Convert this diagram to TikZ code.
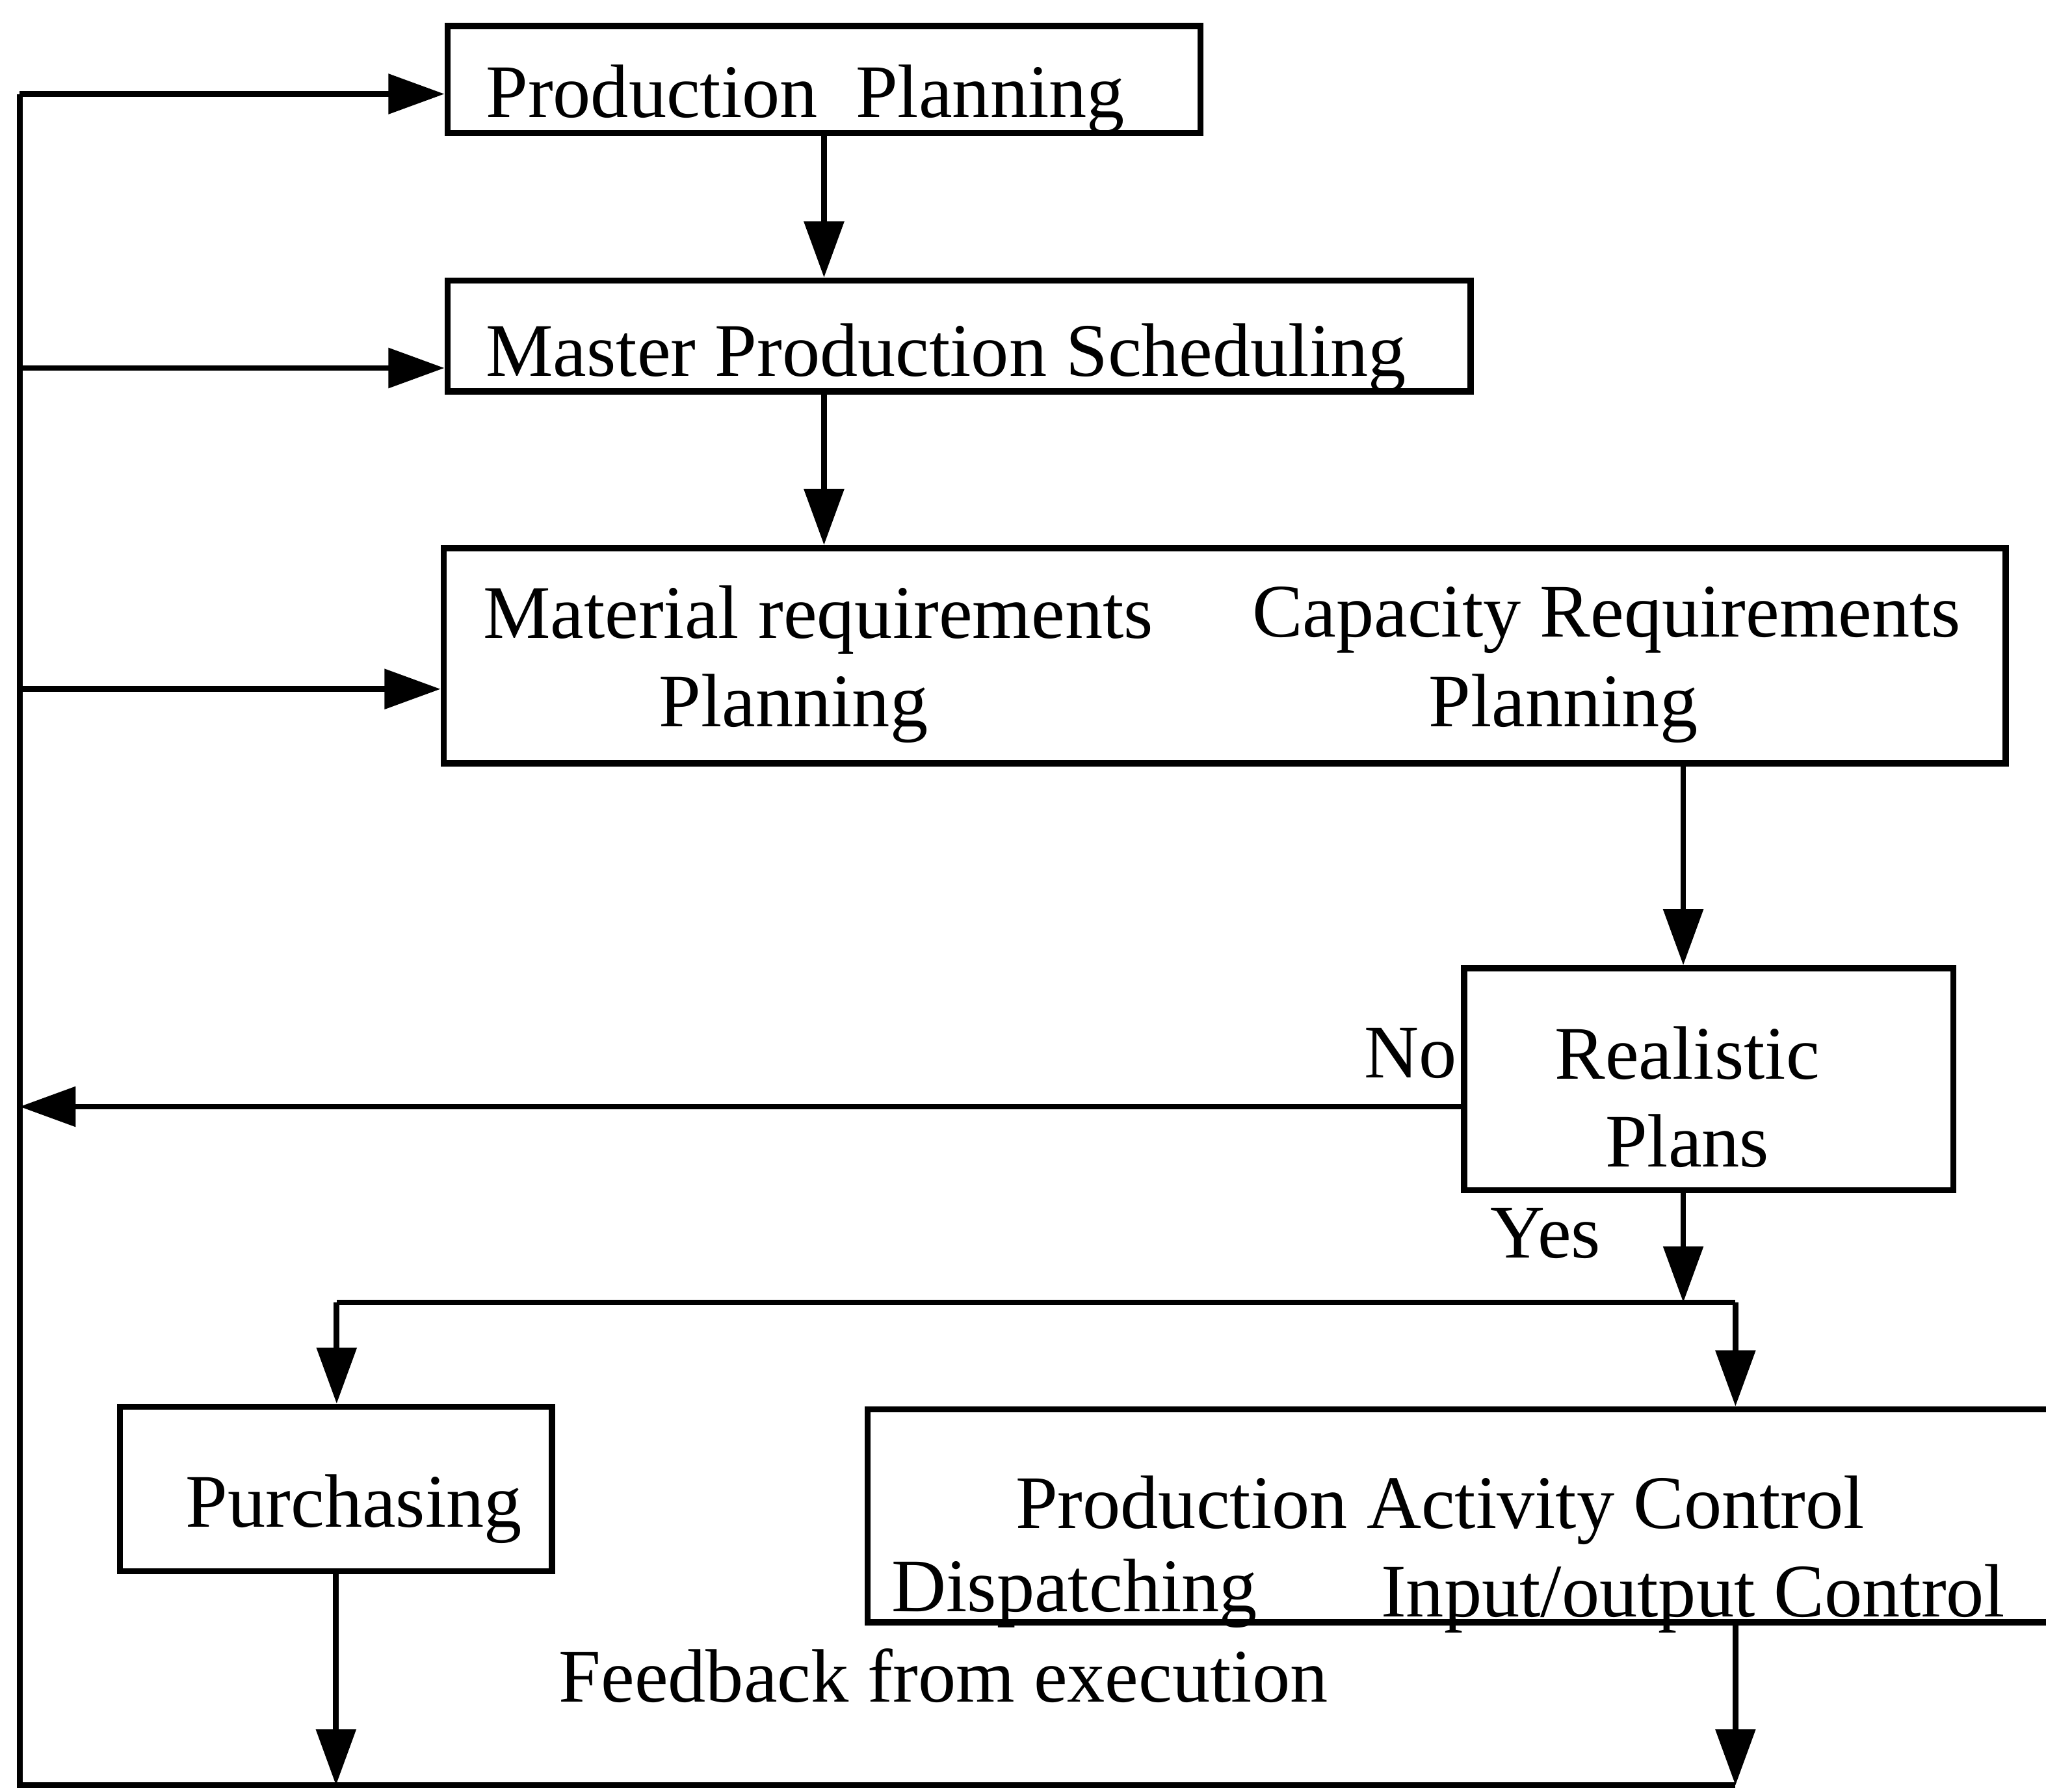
\documentclass[tikz,border=0pt]{standalone}
\usepackage{fontspec}
\setmainfont{Liberation Serif}
\usetikzlibrary{arrows.meta,fit}
\begin{document}
\begin{tikzpicture}[x=0.02cm,y=-0.02cm,
  box/.style={draw, line width=2.7pt, inner sep=0pt},
  lbl/.style={inner sep=0pt, font=\fontsize{33}{40}\selectfont},
  link/.style={line width=2.5pt},
  arr/.style={link, -{Triangle[length=0.86cm,width=0.6cm]}}]
\useasboundingbox (0,0) rectangle (1568,1373);
\clip (0,0) rectangle (1568,1373);

% boxes
\node[box, fit={(343,20) (920,102)}] (pp) {};
\node[box, fit={(343,215) (1127,300)}] (mps) {};
\node[box, fit={(340,420) (1537,585)}] (mrp) {};
\node[box, fit={(1122,742) (1497,912)}] (rp) {};
\node[box, fit={(92,1078) (423,1204)}] (pu) {};
\node[box, fit={(665,1080) (1620,1243)}] (pac) {};

% box texts
\node[lbl, anchor=base west] (tpp) at (372,90) {Production\hspace{0.5em}Planning};
\node[lbl, anchor=base west] (tmps) at (372,288) {Master Production Scheduling};
\node[lbl, anchor=base] (tmat) at (627,489) {Material requirements};
\node[lbl, anchor=base] (tmatp) at (608,557) {Planning};
\node[lbl, anchor=base] (tcap) at (1231,488) {Capacity Requirements};
\node[lbl, anchor=base] (tcapp) at (1198,557) {Planning};
\node[lbl, anchor=base] (trea) at (1293,827) {Realistic};
\node[lbl, anchor=base] (tpla) at (1293,894) {Plans};
\node[lbl, anchor=base west] (tpu) at (142,1170) {Purchasing};
\node[lbl, anchor=base west] (tpac) at (778,1171) {Production Activity Control};
\node[lbl, anchor=base west] (tdis) at (683,1235) {Dispatching};
\node[lbl, anchor=base west] (tio) at (1058,1239) {Input/output Control};

% connector labels
\node[lbl, anchor=base east] (tno) at (1117,826) {No};
\node[lbl, anchor=base west] (tyes) at (1142,964) {Yes};
\node[lbl, anchor=base west] (tfb) at (428,1304) {Feedback from execution};

% points on the feedback rail and the split
\coordinate (r1) at (15,72);
\coordinate (r2) at (15,282);
\coordinate (r3) at (15,528);
\coordinate (r4) at (15,848);
\coordinate (rb) at (15,1368);
\coordinate (cx) at (1290,0);
\coordinate (sl) at (258,998);
\coordinate (sr) at (1330,998);

% main planning chain
\draw[arr] (pp.south) -- (pp.south |- mps.north);
\draw[arr] (pp.south |- mps.south) -- (pp.south |- mrp.north);
\draw[arr] (mrp.south -| cx) -- (rp.north -| cx);
\draw[arr] (rp.south -| cx) -- (cx |- sl);

% split to execution
\draw[link] (sl) -- (sr);
\draw[arr] (sl) -- (sl |- pu.north);
\draw[arr] (sr) -- (sr |- pac.north);

% feedback from execution
\draw[arr] (pu.south) -- (pu.south |- rb);
\draw[arr] (sr |- pac.south) -- (sr |- rb);
\draw[link] (r1) -- (rb) -- (sr |- rb);

% feedback into the plans
\draw[arr] (r1) -- (pp.west |- r1);
\draw[arr] (r2) -- (mps.west |- r2);
\draw[arr] (r3) -- (mrp.west |- r3);
\draw[arr] (rp.west |- r4) -- (r4);
\end{tikzpicture}
\end{document}
